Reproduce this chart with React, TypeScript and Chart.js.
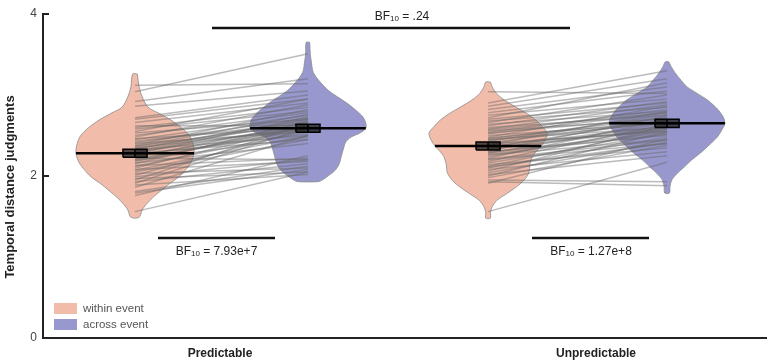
import React, { useEffect, useRef } from "react";
import { Chart, registerables } from "chart.js";

Chart.register(...registerables);

// ---------------- data ----------------
const CONDITIONS = ["Predictable", "Unpredictable"];
const GROUPS = ["within event", "across event"];
const Y_TICKS = [0, 2, 4];
const Y_TITLE = "Temporal distance judgments";

const PRED_WITHIN = [
  3.12, 3.04, 2.92, 2.86, 2.72, 2.70, 2.66, 2.62, 2.60, 2.58,
  2.55, 2.53, 2.50, 2.48, 2.46, 2.45, 2.43, 2.41, 2.40, 2.38,
  2.37, 2.35, 2.34, 2.32, 2.31, 2.30, 2.28, 2.27, 2.26, 2.25,
  2.23, 2.22, 2.20, 2.19, 2.18, 2.16, 2.15, 2.13, 2.12, 2.10,
  2.08, 2.07, 2.05, 2.03, 2.01, 1.99, 1.97, 1.95, 1.93, 1.91,
  1.89, 1.86, 1.81, 1.79, 1.76, 1.56, 2.33, 2.29, 2.21, 2.36,
];
const PRED_ACROSS = [
  3.14, 3.51, 3.20, 3.05, 3.00, 2.95, 2.90, 2.62, 2.85, 2.80,
  2.95, 2.70, 2.78, 2.88, 2.60, 2.75, 2.66, 2.72, 2.55, 2.82,
  2.64, 2.58, 2.70, 2.50, 2.68, 2.62, 2.45, 2.73, 2.52, 2.60,
  2.66, 2.20, 2.57, 2.48, 2.63, 2.40, 2.68, 2.22, 2.55, 2.62,
  2.18, 2.50, 2.45, 2.10, 2.58, 2.20, 2.05, 2.65, 2.15, 2.60,
  2.02, 2.50, 2.12, 2.08, 2.25, 2.05, 2.70, 2.61, 2.59, 2.76,
];
const UNPRED_WITHIN = [
  3.04, 2.90, 2.86, 2.82, 2.78, 2.75, 2.72, 2.70, 2.68, 2.66,
  2.64, 2.62, 2.60, 2.58, 2.56, 2.54, 2.52, 2.50, 2.48, 2.46,
  2.45, 2.43, 2.41, 2.40, 2.38, 2.36, 2.35, 2.33, 2.31, 2.30,
  2.28, 2.26, 2.24, 2.22, 2.20, 2.18, 2.16, 2.14, 2.12, 2.10,
  2.08, 2.06, 2.04, 2.02, 2.00, 1.98, 1.95, 1.93, 1.91, 1.56,
  2.53, 2.47, 2.39, 2.34, 2.27, 2.21, 2.44, 2.57, 2.11, 2.29,
];
const UNPRED_ACROSS = [
  3.02, 3.30, 3.20, 3.10, 3.05, 2.95, 3.15, 2.90, 2.85, 3.00,
  2.80, 2.92, 2.75, 2.88, 2.70, 2.82, 2.78, 2.65, 2.86, 2.72,
  2.60, 2.76, 2.68, 2.55, 2.80, 2.62, 2.70, 2.58, 2.74, 2.50,
  2.66, 2.45, 2.60, 2.70, 2.40, 2.64, 2.52, 2.35, 2.58, 2.48,
  2.30, 2.62, 2.42, 2.25, 2.55, 2.38, 1.93, 1.88, 2.46, 2.17,
  2.72, 2.68, 2.56, 2.60, 2.52, 2.44, 2.66, 2.78, 2.40, 2.54,
];

// group means and standard errors: pred-within, pred-across, unpred-within, unpred-across
const MEANS = [2.28, 2.59, 2.37, 2.65];
const SES = [0.05, 0.05, 0.05, 0.05];

// violin outlines: [value, relative density]
const VIOLIN_PRED_WITHIN = [
  [3.26, 0.04], [3.10, 0.07], [2.98, 0.12], [2.85, 0.22], [2.78, 0.39], [2.69, 0.61],
  [2.60, 0.78], [2.50, 0.92], [2.40, 0.98], [2.28, 1.0], [2.17, 0.95], [2.07, 0.85],
  [1.98, 0.73], [1.91, 0.59], [1.82, 0.44], [1.74, 0.31], [1.65, 0.19], [1.58, 0.12], [1.49, 0.07],
];
const VIOLIN_PRED_ACROSS = [
  [3.65, 0.03], [3.50, 0.04], [3.40, 0.06], [3.30, 0.08], [3.22, 0.14], [3.06, 0.34],
  [2.90, 0.66], [2.80, 0.83], [2.73, 0.93], [2.65, 0.98], [2.59, 0.98], [2.53, 0.88],
  [2.48, 0.73], [2.42, 0.64], [2.36, 0.61], [2.23, 0.56], [2.15, 0.53], [2.07, 0.46],
  [2.00, 0.34], [1.95, 0.24], [1.93, 0.17],
];
const VIOLIN_UNPRED_WITHIN = [
  [3.16, 0.04], [3.10, 0.07], [3.02, 0.14], [2.94, 0.27], [2.85, 0.47], [2.77, 0.66],
  [2.69, 0.81], [2.60, 0.93], [2.53, 1.0], [2.45, 0.97], [2.37, 0.9], [2.30, 0.81],
  [2.24, 0.75], [2.15, 0.71], [2.04, 0.69], [1.95, 0.61], [1.86, 0.47], [1.78, 0.31],
  [1.70, 0.15], [1.62, 0.07], [1.55, 0.04], [1.48, 0.04],
];
const VIOLIN_UNPRED_ACROSS = [
  [3.41, 0.03], [3.35, 0.07], [3.27, 0.14], [3.18, 0.24], [3.10, 0.34], [3.02, 0.51],
  [2.94, 0.68], [2.83, 0.85], [2.73, 0.95], [2.65, 0.98], [2.57, 0.93], [2.48, 0.85],
  [2.38, 0.71], [2.28, 0.56], [2.20, 0.42], [2.11, 0.29], [2.03, 0.17], [1.95, 0.08],
  [1.87, 0.05], [1.79, 0.04],
];

const BF_LABELS = [".24", "7.93e+7", "1.27e+8"];

// ---------------- layout / style ----------------
const X_MIN = 0.5293;
const X_MAX = 2.4548;
const CAT_X = [1, 2];
const VIOLIN_X = [0.774, 1.234, 1.713, 2.189];
const VIOLIN_HALF = 0.157;
const SE_HALF_W = 0.032;
// bracket: x0, x1, y of line, text x, text y
const BF_BRACKETS = [
  { x0: 0.9787, x1: 1.9309, y: 3.827, tx: 1.484, ty: 3.963 },
  { x0: 0.8351, x1: 1.1463, y: 1.235, tx: 0.9907, ty: 1.062 },
  { x0: 1.8298, x1: 2.141, y: 1.235, tx: 1.9867, ty: 1.062 },
];

const WITHIN_FILL = "rgb(242,188,170)";
const ACROSS_FILL = "rgb(152,152,206)";
const FONT = "'Liberation Sans', Arial, Helvetica, sans-serif";

function violinPoints(cx: number, profile: number[][]) {
  const right = profile.map(([v, d]) => ({ x: cx + d * VIOLIN_HALF, y: v }));
  const left = [...profile].reverse().map(([v, d]) => ({ x: cx - d * VIOLIN_HALF, y: v }));
  return [...right, ...left, right[0]];
}

function widthAt(profile: number[][], v: number) {
  for (let i = 0; i < profile.length - 1; i++) {
    const [v0, d0] = profile[i];
    const [v1, d1] = profile[i + 1];
    if (v <= v0 && v >= v1) {
      const t = (v0 - v) / (v0 - v1);
      return d0 + (d1 - d0) * t;
    }
  }
  return 0;
}

const overlayPlugin = {
  id: "overlay",
  afterDraw(chart: any) {
    const { ctx, chartArea } = chart;
    const xs = chart.scales.x;
    const ys = chart.scales.y;
    ctx.save();
    // inward y ticks
    ctx.strokeStyle = "#222";
    ctx.lineWidth = 2;
    Y_TICKS.forEach((t) => {
      const py = Math.round(ys.getPixelForValue(t));
      ctx.beginPath();
      ctx.moveTo(chartArea.left, py);
      ctx.lineTo(chartArea.left + 6, py);
      ctx.stroke();
    });
    // y axis title
    ctx.save();
    ctx.translate(10, 187);
    ctx.rotate(-Math.PI / 2);
    ctx.font = `bold 13px ${FONT}`;
    ctx.fillStyle = "#222";
    ctx.textAlign = "center";
    ctx.textBaseline = "middle";
    ctx.fillText(Y_TITLE, 0, 0);
    ctx.restore();
    // BF labels
    ctx.fillStyle = "#222";
    ctx.textBaseline = "middle";
    BF_BRACKETS.forEach((b, i) => {
      const big = `12px ${FONT}`;
      const small = `8px ${FONT}`;
      const rest = " = " + BF_LABELS[i];
      ctx.font = big;
      const wBF = ctx.measureText("BF").width;
      const wRest = ctx.measureText(rest).width;
      ctx.font = small;
      const wSub = ctx.measureText("10").width;
      const total = wBF + wSub + wRest;
      let px = xs.getPixelForValue(b.tx) - total / 2;
      const py = ys.getPixelForValue(b.ty);
      ctx.textAlign = "left";
      ctx.font = big;
      ctx.fillText("BF", px, py);
      px += wBF;
      ctx.font = small;
      ctx.fillText("10", px, py + 2);
      px += wSub;
      ctx.font = big;
      ctx.fillText(rest, px, py);
    });
    // legend
    const fills = [WITHIN_FILL, ACROSS_FILL];
    GROUPS.forEach((g, i) => {
      const top = 303 + i * 16;
      ctx.fillStyle = fills[i];
      ctx.fillRect(54, top, 23, 11);
      ctx.fillStyle = "#555";
      ctx.font = `11.5px ${FONT}`;
      ctx.textAlign = "left";
      ctx.textBaseline = "middle";
      ctx.fillText(g, 83, top + 5.5);
    });
    ctx.restore();
  },
};

export default function App() {
  const ref = useRef<HTMLCanvasElement | null>(null);

  useEffect(() => {
    if (!ref.current) return;
    const within = [PRED_WITHIN, UNPRED_WITHIN];
    const across = [PRED_ACROSS, UNPRED_ACROSS];
    const profiles = [VIOLIN_PRED_WITHIN, VIOLIN_PRED_ACROSS, VIOLIN_UNPRED_WITHIN, VIOLIN_UNPRED_ACROSS];
    const datasets: any[] = [];

    // violins
    profiles.forEach((p, i) => {
      datasets.push({
        type: "line",
        data: violinPoints(VIOLIN_X[i], p),
        fill: "shape",
        backgroundColor: i % 2 === 0 ? WITHIN_FILL : ACROSS_FILL,
        borderColor: "rgba(140,140,140,0.8)",
        borderWidth: 1,
        pointRadius: 0,
        tension: 0.3,
        order: 10,
      });
    });

    // paired participant lines
    [0, 1].forEach((c) => {
      within[c].forEach((w, k) => {
        datasets.push({
          type: "line",
          data: [
            { x: VIOLIN_X[c * 2], y: w },
            { x: VIOLIN_X[c * 2 + 1], y: across[c][k] },
          ],
          borderColor: "rgba(105,105,105,0.45)",
          borderWidth: 1.5,
          pointRadius: 0,
          fill: false,
          tension: 0,
          order: 8,
        });
      });
    });

    // means, SE boxes
    MEANS.forEach((m, i) => {
      const hw = widthAt(profiles[i], m) * VIOLIN_HALF;
      const cx = VIOLIN_X[i];
      const se = SES[i];
      datasets.push({
        type: "line",
        data: [
          { x: cx - SE_HALF_W, y: m - se },
          { x: cx + SE_HALF_W, y: m - se },
          { x: cx + SE_HALF_W, y: m + se },
          { x: cx - SE_HALF_W, y: m + se },
          { x: cx - SE_HALF_W, y: m - se },
        ],
        fill: "shape",
        backgroundColor: "rgba(30,30,30,0.75)",
        borderColor: "#000",
        borderWidth: 1.5,
        pointRadius: 0,
        tension: 0,
        order: 4,
      });
      datasets.push({
        type: "line",
        data: [
          { x: cx, y: m - se },
          { x: cx, y: m + se },
        ],
        borderColor: "#000",
        borderWidth: 1.5,
        pointRadius: 0,
        fill: false,
        order: 3,
      });
      datasets.push({
        type: "line",
        data: [
          { x: cx - hw, y: m },
          { x: cx + hw, y: m },
        ],
        borderColor: "#000",
        borderWidth: 2.5,
        pointRadius: 0,
        fill: false,
        order: 2,
      });
    });

    // BF bracket lines
    BF_BRACKETS.forEach((b) => {
      datasets.push({
        type: "line",
        data: [
          { x: b.x0, y: b.y },
          { x: b.x1, y: b.y },
        ],
        borderColor: "#111",
        borderWidth: 2.5,
        pointRadius: 0,
        fill: false,
        order: 1,
      });
    });

    Chart.defaults.font.family = FONT;

    const chart = new Chart(ref.current, {
      type: "line",
      data: { datasets },
      options: {
        responsive: false,
        animation: false,
        devicePixelRatio: 1,
        events: [],
        layout: { padding: { top: 14, right: 0, left: 0, bottom: 0 } },
        plugins: {
          legend: { display: false },
          tooltip: { enabled: false },
          colors: { enabled: false },
        },
        scales: {
          x: {
            type: "linear",
            min: X_MIN,
            max: X_MAX,
            afterBuildTicks: (s: any) => {
              s.ticks = CAT_X.map((v) => ({ value: v }));
            },
            afterFit: (s: any) => {
              s.height = 24;
            },
            ticks: {
              callback: (_v: any, i: number) => CONDITIONS[i],
              font: { family: FONT, size: 12, weight: "bold" },
              color: "#222",
              padding: 8,
              maxRotation: 0,
            },
            grid: { display: false, drawTicks: false },
            border: { display: true, color: "#222", width: 2 },
          },
          y: {
            type: "linear",
            min: 0,
            max: 4,
            afterBuildTicks: (s: any) => {
              s.ticks = Y_TICKS.map((v) => ({ value: v }));
            },
            afterFit: (s: any) => {
              s.width = 43;
            },
            ticks: {
              font: { family: FONT, size: 12 },
              color: "#444",
              padding: 6,
            },
            grid: { display: false, drawTicks: false },
            border: { display: true, color: "#222", width: 2 },
          },
        },
      },
      plugins: [overlayPlugin],
    } as any);

    return () => chart.destroy();
  }, []);

  return (
    <div style={{ position: "absolute", left: 0, top: 0, width: 767, height: 362, background: "#fff" }}>
      <canvas ref={ref} width={767} height={362} />
    </div>
  );
}
